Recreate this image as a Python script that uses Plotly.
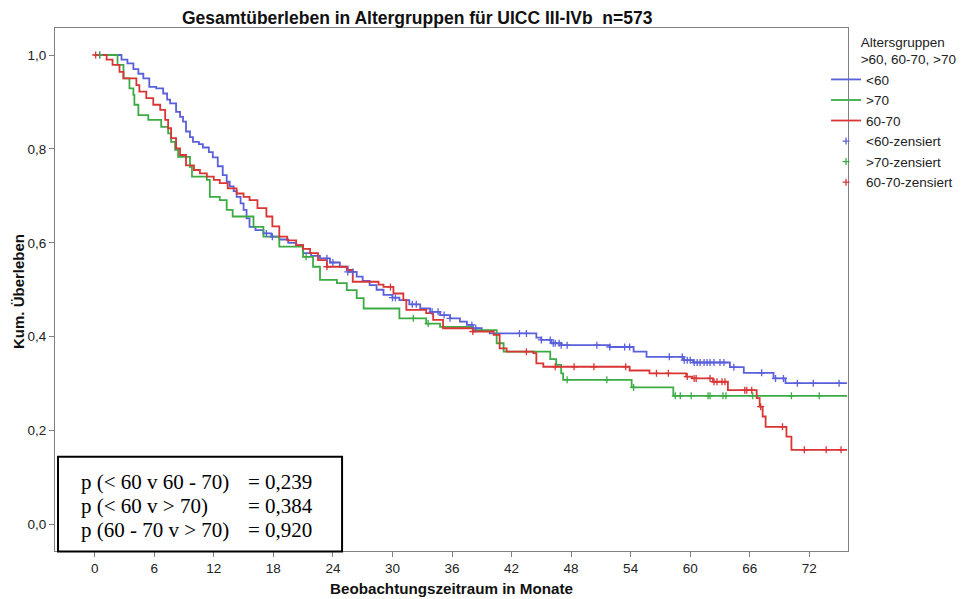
import plotly.graph_objects as go

# ---------------- data ----------------
chart_title = "Gesamtüberleben in Altergruppen für UICC III-IVb  n=573"
x_title = "Beobachtungszeitraum in Monate"
y_title = "Kum. Überleben"
legend_title = "Altersgruppen<br>&gt;60, 60-70, &gt;70"

x_ticks = [0, 6, 12, 18, 24, 30, 36, 42, 48, 54, 60, 66, 72]
y_ticks = [0.0, 0.2, 0.4, 0.6, 0.8, 1.0]
y_ticklabels = ["0,0", "0,2", "0,4", "0,6", "0,8", "1,0"]

follow_up_end = 75.8

# group <60 (blue): event times and survival after each step
lt60_t = [0, 2.7, 3.3, 3.9, 4.4, 4.9, 5.5, 6.2, 6.9, 7.3, 7.6, 8.2, 8.6, 8.9, 9.2, 9.6,
          9.9, 10.5, 10.9, 11.5, 11.9, 12.4, 12.9, 13.3, 13.6, 14.0, 14.3, 14.7, 15.0,
          15.3, 15.6, 16.2, 17.0, 17.8, 18.6, 19.5, 20.3, 21.0, 21.8, 22.7, 23.7, 24.7,
          25.5, 26.4, 27.0, 27.7, 28.4, 29.1, 30.0, 30.7, 31.7, 32.8, 33.8, 34.8, 35.8,
          36.8, 37.5, 38.1, 39.0, 39.8, 44.5, 45.0, 46.0, 47.0, 51.9, 54.3, 55.6, 59.3,
          60.3, 64.0, 65.4, 68.4, 69.6]
lt60_s = [1.0, 0.99, 0.982, 0.97, 0.96, 0.95, 0.932, 0.929, 0.918, 0.905, 0.897, 0.879,
          0.868, 0.858, 0.837, 0.825, 0.815, 0.81, 0.803, 0.793, 0.782, 0.763, 0.744,
          0.73, 0.72, 0.71, 0.698, 0.684, 0.67, 0.652, 0.634, 0.627, 0.62, 0.613, 0.607,
          0.60, 0.595, 0.578, 0.572, 0.567, 0.558, 0.549, 0.538, 0.528, 0.519, 0.51, 0.50,
          0.489, 0.483, 0.478, 0.469, 0.46, 0.453, 0.446, 0.439, 0.432, 0.425, 0.418,
          0.412, 0.407, 0.398, 0.393, 0.386, 0.382, 0.378, 0.368, 0.357, 0.35, 0.345,
          0.335, 0.323, 0.311, 0.301]
lt60_cens = [0.5, 17.3, 17.9, 23.4, 24.0, 25.5, 26.0, 30.0, 30.3, 32.0, 32.4, 34.0, 34.6,
             35.2, 35.8, 38.0, 38.4, 42.8, 43.5, 45.0, 45.9, 46.2, 46.4, 46.8, 47.0, 47.6,
             50.6, 51.9, 53.4, 53.9, 57.9, 59.2, 59.4, 59.7, 60.0, 60.4, 60.7, 61.0, 61.4,
             61.7, 62.0, 62.4, 63.0, 63.4, 64.4, 67.2, 68.6, 69.4, 70.8, 72.4, 75.0]

# group >70 (green)
gt70_t = [0, 2.3, 2.9, 3.5, 3.9, 4.0, 4.4, 5.4, 6.7, 7.4, 7.7, 8.1, 8.4, 9.6, 9.8, 11.3,
          11.6, 12.6, 13.3, 13.9, 16.0, 17.0, 18.6, 21.0, 22.0, 22.7, 24.4, 25.4, 26.4,
          27.1, 30.7, 33.4, 34.8, 38.1, 40.5, 41.2, 45.9, 46.5, 47.0, 47.2, 54.1, 58.3]
gt70_s = [1.0, 0.979, 0.95, 0.929, 0.915, 0.894, 0.872, 0.862, 0.847, 0.833, 0.815,
          0.798, 0.783, 0.762, 0.741, 0.734, 0.698, 0.691, 0.67, 0.656, 0.634, 0.613,
          0.592, 0.57, 0.549, 0.521, 0.514, 0.499, 0.482, 0.46, 0.439, 0.428, 0.421,
          0.414, 0.386, 0.368, 0.352, 0.34, 0.322, 0.308, 0.292, 0.274]
gt70_cens = [0.5, 21.3, 32.1, 33.6, 47.6, 51.6, 54.3, 58.5, 59.0, 60.1, 61.8, 62.0, 63.3,
             63.6, 66.3, 70.2, 73.0]

# group 60-70 (red)
mid_t = [0, 1.2, 1.8, 2.5, 2.9, 4.2, 4.5, 5.2, 5.9, 6.6, 7.1, 7.4, 7.7, 8.2, 8.6, 9.2,
         10.0, 10.6, 11.3, 12.0, 12.6, 13.4, 14.3, 15.0, 15.6, 16.4, 17.3, 17.9, 18.6,
         19.4, 20.3, 21.0, 21.7, 22.5, 23.4, 25.4, 26.0, 28.6, 29.1, 30.1, 31.1, 31.4,
         33.4, 34.1, 35.1, 38.1, 40.2, 40.8, 41.5, 44.2, 44.5, 45.2, 53.9, 55.9, 59.6,
         60.2, 62.3, 63.8, 66.7, 67.0, 67.3, 67.6, 69.7, 70.2]
mid_s = [1.0, 0.99, 0.979, 0.964, 0.95, 0.936, 0.922, 0.908, 0.894, 0.883, 0.862, 0.844,
         0.823, 0.801, 0.787, 0.765, 0.755, 0.748, 0.741, 0.734, 0.727, 0.716, 0.705,
         0.698, 0.691, 0.674, 0.656, 0.635, 0.613, 0.605, 0.595, 0.587, 0.578, 0.563,
         0.549, 0.542, 0.517, 0.511, 0.506, 0.492, 0.478, 0.457, 0.45, 0.436, 0.418,
         0.411, 0.404, 0.375, 0.368, 0.365, 0.343, 0.336, 0.328, 0.322, 0.315, 0.311,
         0.304, 0.286, 0.269, 0.251, 0.23, 0.208, 0.187, 0.159]
mid_cens = [0.1, 23.4, 29.8, 38.1, 43.5, 46.4, 48.3, 50.3, 53.5, 56.6, 57.8, 59.7, 60.4,
            60.6, 62.0, 62.4, 62.7, 63.2, 63.5, 65.5, 65.7, 66.2, 67.1, 69.3, 71.5, 73.7,
            75.2]

p_labels = ["p (&lt; 60 v 60 - 70)", "p (&lt; 60 v &gt; 70)", "p (60 - 70 v &gt; 70)"]
p_values = ["= 0,239", "= 0,384", "= 0,920"]

groups = [
    ("&lt;60", lt60_t, lt60_s, lt60_cens, "#5a60da"),
    ("&gt;70", gt70_t, gt70_s, gt70_cens, "#3dab45"),
    ("60-70", mid_t, mid_s, mid_cens, "#da3535"),
]


def surv_at(times, surv, t):
    val = surv[0]
    for ti, si in zip(times, surv):
        if ti <= t:
            val = si
        else:
            break
    return val


fig = go.Figure()
for name, t, s, c, col in groups:
    fig.add_trace(go.Scatter(
        x=list(t) + [follow_up_end], y=list(s) + [s[-1]], mode="lines",
        line=dict(color=col, width=1.8, shape="hv"), name=name,
    ))
for name, t, s, c, col in groups:
    fig.add_trace(go.Scatter(
        x=c, y=[surv_at(t, s, ci) for ci in c], mode="markers",
        marker=dict(symbol="cross-thin", size=5, line=dict(color=col, width=1.3), color=col),
        name=name + "-zensiert",
    ))

FONT = "Liberation Sans, Arial, sans-serif"
axis_col = "#808080"

fig.update_layout(
    width=966, height=599,
    margin=dict(l=55, r=118, t=28, b=48, autoexpand=False),
    paper_bgcolor="white", plot_bgcolor="white",
    font=dict(family=FONT, size=13, color="#222"),
    showlegend=True,
    legend=dict(
        xref="paper", yref="paper",
        x=0.9723, y=0.998, xanchor="left", yanchor="top",
        title=dict(text=legend_title, font=dict(size=13.5, color="#222"), side="top right"),
        font=dict(size=13.5, color="#222"), itemwidth=30, tracegroupgap=0,
        bgcolor="rgba(0,0,0,0)",
    ),
    xaxis=dict(
        range=[-4.0, 75.9], tickvals=x_ticks, ticks="outside", ticklen=5,
        tickcolor=axis_col, showline=True, linecolor=axis_col, linewidth=1.2,
        mirror=True, showgrid=False, zeroline=False, tickfont=dict(size=13.5),
        automargin=False,
    ),
    yaxis=dict(
        range=[-0.0565, 1.0575], tickvals=y_ticks, ticktext=y_ticklabels,
        ticks="outside", ticklen=5, tickcolor=axis_col, showline=True,
        linecolor=axis_col, linewidth=1.2, mirror=True, showgrid=False,
        zeroline=False, tickfont=dict(size=13.5), automargin=False,
    ),
    annotations=[
        dict(text="<b>" + chart_title + "</b>", x=0.4565, y=1.019, xref="paper",
             yref="paper", xanchor="center", yanchor="middle", showarrow=False,
             font=dict(size=17.5, color="#111")),
        dict(text="<b>" + x_title + "</b>", x=0.5006, y=-0.071, xref="paper",
             yref="paper", xanchor="center", yanchor="middle", showarrow=False,
             font=dict(size=15.2, color="#111")),
        dict(text="<b>" + y_title + "</b>", x=-0.0467, y=0.497, xref="paper",
             yref="paper", xanchor="center", yanchor="middle", showarrow=False,
             textangle=-90, font=dict(size=15, color="#111")),
    ],
    shapes=[dict(type="rect", xref="paper", yref="paper", x0=0.0038, x1=0.362,
                 y0=-0.001, y1=0.180, line=dict(color="black", width=2),
                 fillcolor="white", layer="above")],
)

p_rows_y = [0.1325, 0.0866, 0.0402]
for lab, val, yy in zip(p_labels, p_values, p_rows_y):
    fig.add_annotation(text=lab, x=0.0303, y=yy, xref="paper", yref="paper",
                       xanchor="left", yanchor="middle", showarrow=False,
                       font=dict(family="Liberation Serif, Times New Roman, serif",
                                 size=21, color="black"))
    fig.add_annotation(text=val, x=0.2405, y=yy, xref="paper", yref="paper",
                       xanchor="left", yanchor="middle", showarrow=False,
                       font=dict(family="Liberation Serif, Times New Roman, serif",
                                 size=21, color="black"))

fig.write_html("out.html")
